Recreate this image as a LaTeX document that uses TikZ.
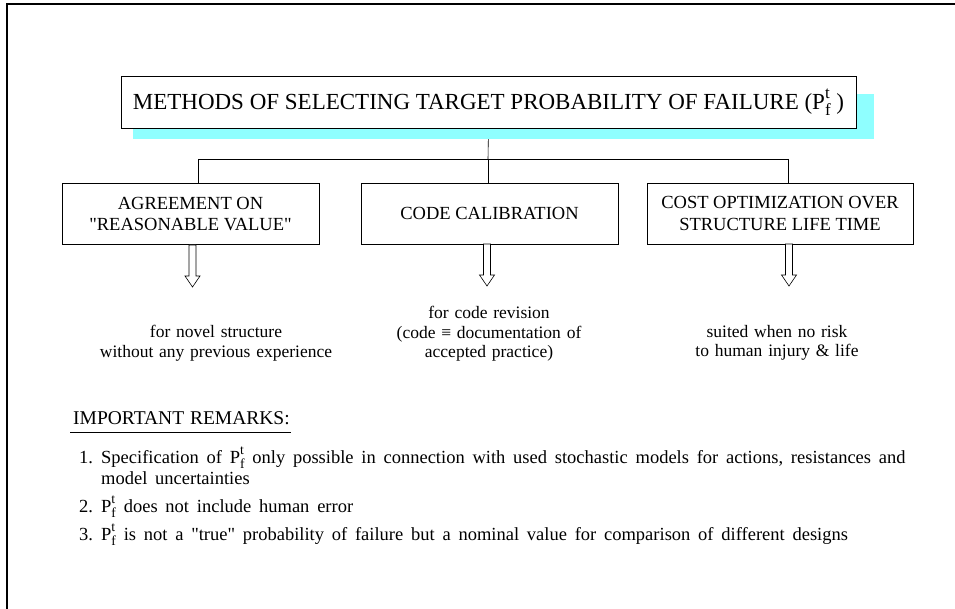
\documentclass[tikz,border=0pt]{standalone}
\usepackage{fontspec}
\setmainfont{Liberation Serif}
\usetikzlibrary{backgrounds}
\definecolor{shadowcyan}{RGB}{143,255,255}
% P with stacked sub-/superscript: P_f^t
\newcommand\pft{P\rlap{\raisebox{1.05ex}{\scalebox{0.74}{t}}}\raisebox{-0.6ex}{\scalebox{0.74}{f}}}
\newcommand\dq{\textquotedbl}
% wider word spacing for running text
\newcommand\widespaces[1]{\spaceskip=#1em plus 0.1em\relax}
\tikzset{
  frameline/.style={line width=2pt},
  titlebox/.style={draw, fill=white, line width=0.6pt, minimum width=735pt, minimum height=52pt,
    inner sep=0pt, font=\fontsize{23}{27}\selectfont},
  methodbox/.style={draw, fill=white, line width=0.6pt, minimum height=61pt, inner sep=0pt,
    align=center, font=\fontsize{18.5}{21.5}\selectfont},
  link/.style={line width=0.6pt},
  hollow/.style={draw, fill=white, line width=0.6pt},
  usage/.style={align=center, anchor=north, inner sep=0pt,
    font=\fontsize{17.5}{19.5}\selectfont\widespaces{0.33}},
  remark/.style={anchor=base west, inner sep=0pt, align=left,
    font=\fontsize{18.5}{21}\selectfont\widespaces{0.42}},
}
\begin{document}
\begin{tikzpicture}[x=1pt, y=-1pt]
\useasboundingbox (0,0) rectangle (955,609);
% open frame: top and left edges only
\draw[frameline] (7,609) -- (7,4) -- (955,4);

% title and method boxes
\node[titlebox] (title) at (488.5,102)
  {METHODS OF SELECTING TARGET PROBABILITY OF FAILURE (\pft\ )};
\node[methodbox, minimum width=257pt] (agree) at (190.5,214) {AGREEMENT ON\\\dq REASONABLE VALUE\dq};
\node[methodbox, minimum width=257pt] (calib) at (489.5,213.5) {CODE CALIBRATION};
\node[methodbox, minimum width=266pt] (cost) at (780,213.5) {COST OPTIMIZATION OVER\\STRUCTURE LIFE TIME};

% junction points of the tree
\coordinate (bus) at (488,159);
\coordinate (busL) at (198,159);
\coordinate (busR) at (788,159);

\begin{pgfonlayer}{background}
  \draw[link] (title.south) -- (bus);
  \draw[link] (busL) -- (busR);
  \draw[link] (busL) -- (busL |- agree.north);
  \draw[link] (bus) -- (bus |- calib.north);
  \draw[link] (busR) -- (busR |- cost.north);
  \fill[shadowcyan] (133,94) rectangle (874,139);
\end{pgfonlayer}

% hollow block arrows below the boxes
\coordinate (arrL) at (192.5,245);
\coordinate (arrM) at (487,244);
\coordinate (arrR) at (789,244);
\foreach \a in {arrL,arrM,arrR}{
  \draw[hollow] (\a) ++(-3.5,0) -- ++(0,31) -- ++(-4,0) -- ++(7.5,11) -- ++(7.5,-11)
    -- ++(-4,0) -- ++(0,-31) -- cycle;
}

% where each method applies
\node[usage] (useL) at (216,325) {for novel structure\\without any previous experience};
\node[usage] (useM) at (489,306) {for code revision\\(code \symbol{"2261} documentation of\\accepted practice)};
\node[usage] (useR) at (777,325) {suited when no risk\\to human injury \& life};

% remarks
\node[remark, font=\fontsize{19.5}{21}\selectfont\widespaces{0.3}] (remhead) at (73,424) {IMPORTANT REMARKS:};
\draw[link] ([xshift=-3pt]remhead.base west) ++(0,8) -- ([xshift=1pt]remhead.base east |- 0,432);
\node[remark] (rem1) at (79,484)
  {\makebox[22pt][l]{1.}Specification of \pft\ only possible in connection with used stochastic models for actions, resistances and\\
   \hspace*{22pt}model uncertainties};
\node[remark] (rem2) at (79,512) {\makebox[22pt][l]{2.}\pft\ does not include human error};
\node[remark] (rem3) at (79,540)
  {\makebox[22pt][l]{3.}\pft\ is not a \dq true\dq\ probability of failure but a nominal value for comparison of different designs};
\end{tikzpicture}
\end{document}
